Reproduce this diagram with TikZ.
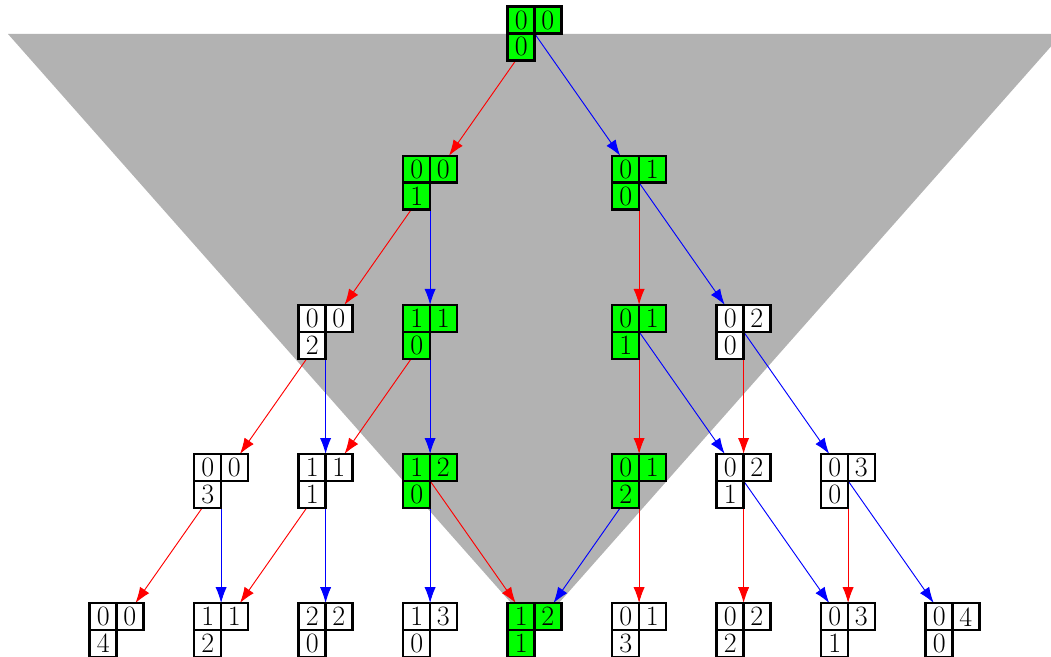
\documentclass[tikz,border=0pt]{standalone}
\usetikzlibrary{arrows.meta}
\tikzset{
  box/.style={rectangle,inner sep=0pt,minimum size=28.5pt},
  cellline/.style={draw=black,line width=1.3pt,line join=miter},
  digit/.style={inner sep=0pt,font=\fontsize{15}{18}\selectfont},
  redge/.style={draw=red,line width=0.5pt,-{Latex[length=8.5pt,width=6pt]}},
  bedge/.style={draw=blue,line width=0.5pt,-{Latex[length=8.5pt,width=6pt]}},
}
\newcommand\tabcells[5]{%
  \filldraw[cellline,fill=#5] (#1.north west) -- (#1.north east) -- (#1.east) -- (#1.center) -- (#1.south) -- (#1.south west) -- cycle;
  \draw[cellline] (#1.north) -- (#1.center) (#1.west) -- (#1.center);
  \node[digit] (#1-a) at ([shift={(-7.125pt,7.125pt)}]#1.center) {#2};
  \node[digit] (#1-b) at ([shift={(7.125pt,7.125pt)}]#1.center) {#3};
  \node[digit] (#1-c) at ([shift={(-7.125pt,-7.125pt)}]#1.center) {#4};
}
\begin{document}
\begin{tikzpicture}[x=0.5358pt,y=-0.5358pt]
\useasboundingbox (0,0) rectangle (1051,657);
\clip (0,0) rectangle (1051,657);
\fill[black!30] (8,34) -- (1062,34) -- (535,630) -- cycle;
\node[box] (r)  at (534.6,33.6) {};
\node[box] (a1) at (430.1,182.7) {};
\node[box] (a2) at (639.1,182.7) {};
\node[box] (b1) at (325.6,331.8) {};
\node[box] (b2) at (430.1,331.8) {};
\node[box] (b3) at (639.1,331.8) {};
\node[box] (b4) at (743.6,331.8) {};
\node[box] (c1) at (221.1,480.9) {};
\node[box] (c2) at (325.6,480.9) {};
\node[box] (c3) at (430.1,480.9) {};
\node[box] (c4) at (639.1,480.9) {};
\node[box] (c5) at (743.6,480.9) {};
\node[box] (c6) at (848.1,480.9) {};
\node[box] (d0) at (116.6,630.0) {};
\node[box] (d1) at (221.1,630.0) {};
\node[box] (d2) at (325.6,630.0) {};
\node[box] (d3) at (430.1,630.0) {};
\node[box] (d4) at (534.6,630.0) {};
\node[box] (d5) at (639.1,630.0) {};
\node[box] (d6) at (743.6,630.0) {};
\node[box] (d7) at (848.1,630.0) {};
\node[box] (d8) at (952.6,630.0) {};
% edges
\draw[redge] (r.center) -- (a1); \draw[bedge] (r.center) -- (a2);
\draw[redge] (a1.center) -- (b1); \draw[bedge] (a1.center) -- (b2);
\draw[redge] (a2.center) -- (b3); \draw[bedge] (a2.center) -- (b4);
\draw[redge] (b1.center) -- (c1); \draw[bedge] (b1.center) -- (c2);
\draw[redge] (b2.center) -- (c2); \draw[bedge] (b2.center) -- (c3);
\draw[redge] (b3.center) -- (c4); \draw[bedge] (b3.center) -- (c5);
\draw[redge] (b4.center) -- (c5); \draw[bedge] (b4.center) -- (c6);
\draw[redge] (c1.center) -- (d0); \draw[bedge] (c1.center) -- (d1);
\draw[redge] (c2.center) -- (d1); \draw[bedge] (c2.center) -- (d2);
\draw[redge] (c3.center) -- (d4); \draw[bedge] (c3.center) -- (d3);
\draw[bedge] (c4.center) -- (d4); \draw[redge] (c4.center) -- (d5);
\draw[redge] (c5.center) -- (d6); \draw[bedge] (c5.center) -- (d7);
\draw[redge] (c6.center) -- (d7); \draw[bedge] (c6.center) -- (d8);
% cells
\tabcells{r}{0}{0}{0}{green}
\tabcells{a1}{0}{0}{1}{green}
\tabcells{a2}{0}{1}{0}{green}
\tabcells{b1}{0}{0}{2}{white}
\tabcells{b2}{1}{1}{0}{green}
\tabcells{b3}{0}{1}{1}{green}
\tabcells{b4}{0}{2}{0}{white}
\tabcells{c1}{0}{0}{3}{white}
\tabcells{c2}{1}{1}{1}{white}
\tabcells{c3}{1}{2}{0}{green}
\tabcells{c4}{0}{1}{2}{green}
\tabcells{c5}{0}{2}{1}{white}
\tabcells{c6}{0}{3}{0}{white}
\tabcells{d0}{0}{0}{4}{white}
\tabcells{d1}{1}{1}{2}{white}
\tabcells{d2}{2}{2}{0}{white}
\tabcells{d3}{1}{3}{0}{white}
\tabcells{d4}{1}{2}{1}{green}
\tabcells{d5}{0}{1}{3}{white}
\tabcells{d6}{0}{2}{2}{white}
\tabcells{d7}{0}{3}{1}{white}
\tabcells{d8}{0}{4}{0}{white}
\end{tikzpicture}
\end{document}
